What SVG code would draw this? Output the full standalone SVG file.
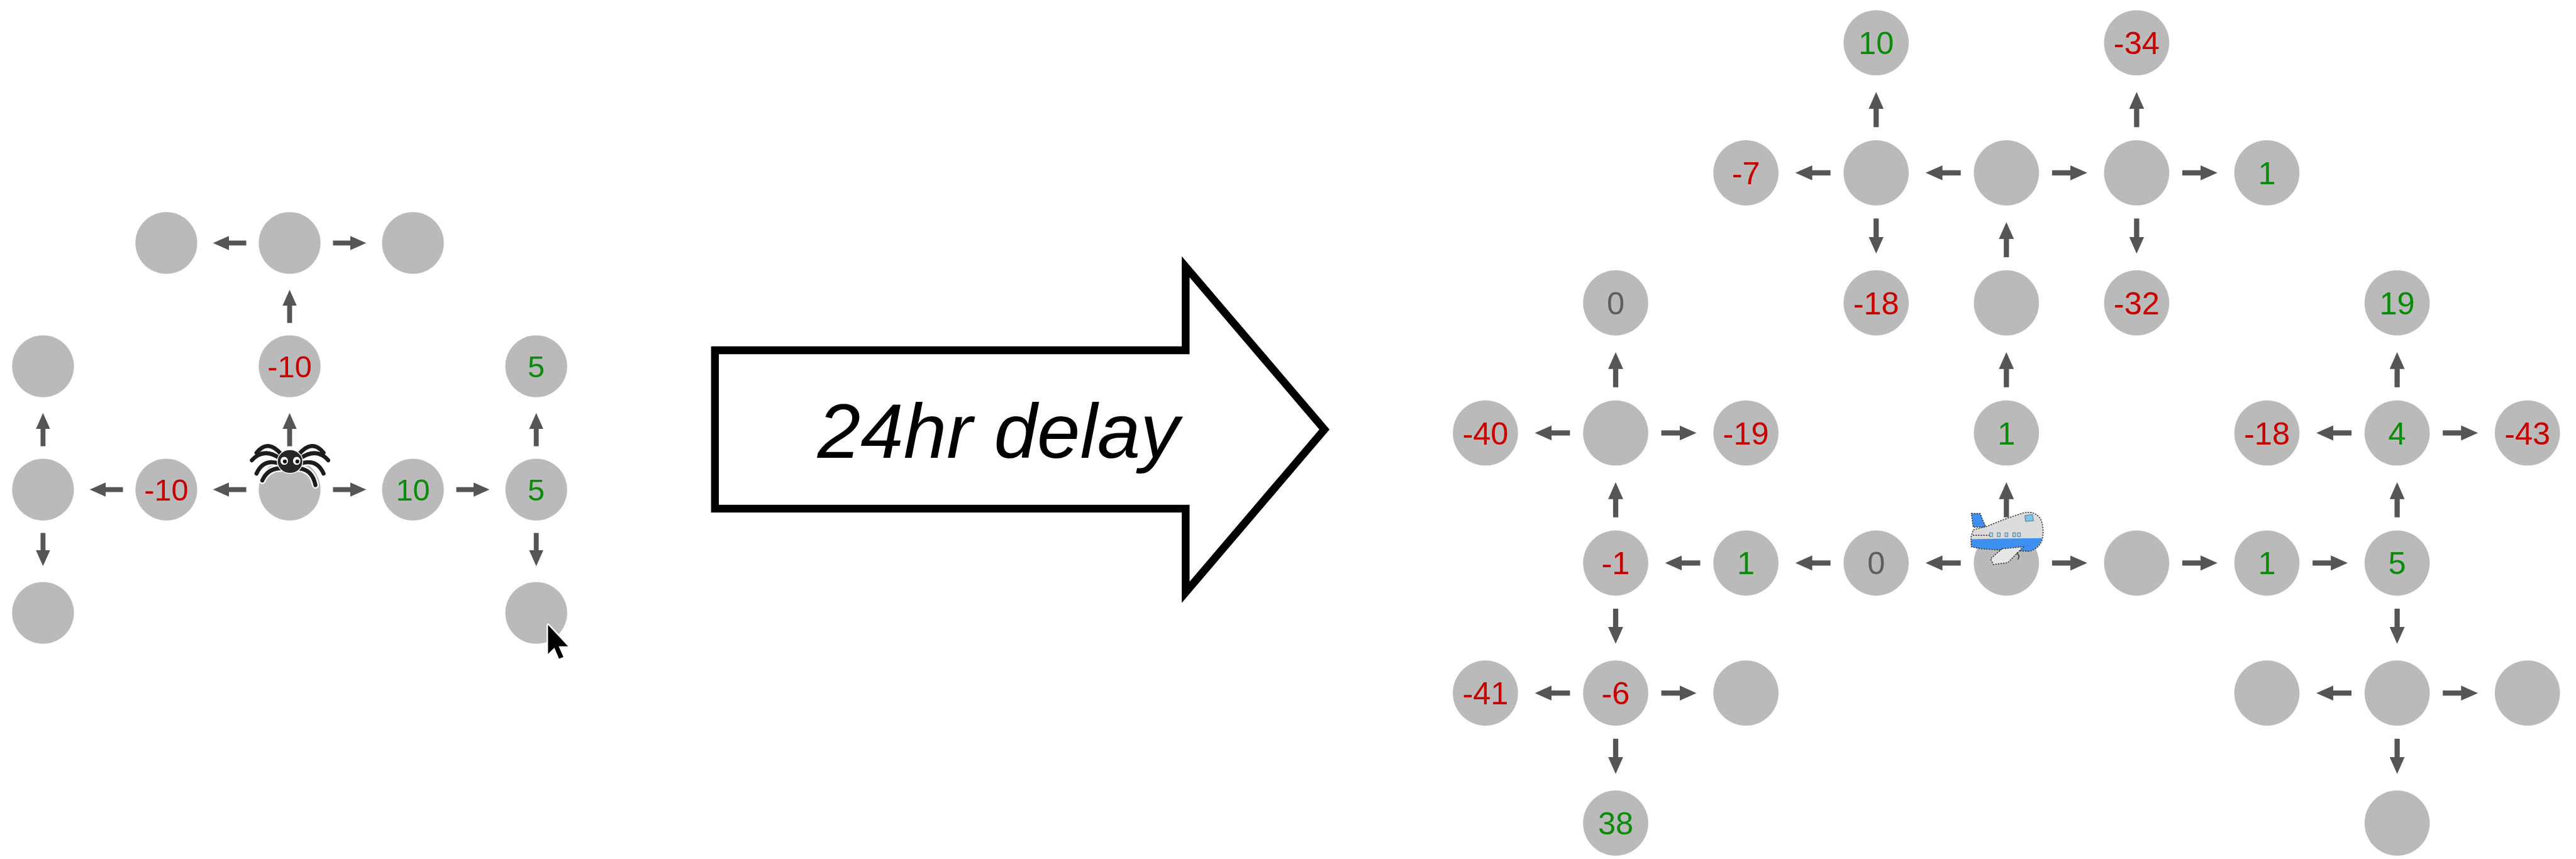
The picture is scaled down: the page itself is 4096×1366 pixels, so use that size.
<svg xmlns="http://www.w3.org/2000/svg" width="4096" height="1366" viewBox="0 0 4096 1366">
  <defs>
    <style>
      .nd circle { fill: #bababa; }
      .nd text { font-family: 'Liberation Sans', Arial, sans-serif; text-anchor: middle; }
      .sm text { font-size: 53px; }
      .lg text { font-size: 55px; }
      .neg { fill: #c80000; }
      .pos { fill: #0a8c0a; }
      .zero { fill: #5e5e5e; }
      .cl line { stroke: #555555; stroke-width: 8.5; marker-end: url(#headS); }
      .cr line { stroke: #555555; stroke-width: 9; marker-end: url(#headL); }
      .dots { fill: none; stroke: #2a2a2a; stroke-width: 1.6; stroke-dasharray: 2.5 2; }
      .leg { fill: none; stroke-linecap: round; }
    </style>
    <marker id="headS" markerUnits="userSpaceOnUse" viewBox="0 -13 28 26" refX="0.7" refY="0" markerWidth="28" markerHeight="26" orient="auto">
      <path d="M0,-12.3L27.7,0L0,12.3Z" fill="#555555"/>
    </marker>
    <marker id="headL" markerUnits="userSpaceOnUse" viewBox="0 -14 30 28" refX="0.7" refY="0" markerWidth="30" markerHeight="28" orient="auto">
      <path d="M0,-13L29.2,0L0,13Z" fill="#555555"/>
    </marker>
  </defs>
  <rect width="4096" height="1366" fill="#ffffff"/>
  <g transform="scale(0.91921)">

    <!-- first grid: nodes -->
    <g id="nodes-before" class="nd sm">
      <g id="b-1-0" transform="translate(287.7,420.4)"><circle r="53.5"/></g>
      <g id="b-2-0" transform="translate(501,420.4)"><circle r="53.5"/></g>
      <g id="b-3-0" transform="translate(714.3,420.4)"><circle r="53.5"/></g>
      <g id="b-0-1" transform="translate(74.4,633.7)"><circle r="53.5"/></g>
      <g id="b-2-1" transform="translate(501,633.7)"><circle r="53.5"/><text class="neg" y="19">-10</text></g>
      <g id="b-4-1" transform="translate(927.6,633.7)"><circle r="53.5"/><text class="pos" y="19">5</text></g>
      <g id="b-0-2" transform="translate(74.4,847)"><circle r="53.5"/></g>
      <g id="b-1-2" transform="translate(287.7,847)"><circle r="53.5"/><text class="neg" y="19">-10</text></g>
      <g id="b-2-2" transform="translate(501,847)"><circle r="53.5"/></g>
      <g id="b-3-2" transform="translate(714.3,847)"><circle r="53.5"/><text class="pos" y="19">10</text></g>
      <g id="b-4-2" transform="translate(927.6,847)"><circle r="53.5"/><text class="pos" y="19">5</text></g>
      <g id="b-0-3" transform="translate(74.4,1060.3)"><circle r="53.5"/></g>
      <g id="b-4-3" transform="translate(927.6,1060.3)"><circle r="53.5"/></g>
    </g>

    <!-- first grid: connectors -->
    <g id="connectors-before" class="cl">
      <line x1="426" y1="420.4" x2="395.5" y2="420.4"/>
      <line x1="576" y1="420.4" x2="606.5" y2="420.4"/>
      <line x1="501" y1="558.7" x2="501" y2="528.2"/>
      <line x1="501" y1="772" x2="501" y2="741.5"/>
      <line x1="426" y1="847" x2="395.5" y2="847"/>
      <line x1="576" y1="847" x2="606.5" y2="847"/>
      <line x1="212.7" y1="847" x2="182.2" y2="847"/>
      <line x1="74.4" y1="772" x2="74.4" y2="741.5"/>
      <line x1="74.4" y1="922" x2="74.4" y2="952.5"/>
      <line x1="789.3" y1="847" x2="819.8" y2="847"/>
      <line x1="927.6" y1="772" x2="927.6" y2="741.5"/>
      <line x1="927.6" y1="922" x2="927.6" y2="952.5"/>
    </g>

    <!-- spider sitting on the start node -->
    <g id="spider" transform="translate(501.7,798.3)">
      <g class="leg" stroke="#ffffff" stroke-width="12">
        <path d="M-15,-12Q-38,-40 -58,-15"/>
        <path d="M-17,-5Q-46,-25 -66,-2"/>
        <path d="M-17,4Q-46,-6 -58,21"/>
        <path d="M-12,12Q-38,10 -48,33"/>
        <path d="M15,-12Q38,-40 58,-15"/>
        <path d="M17,-5Q46,-25 66,-2"/>
        <path d="M17,4Q46,-6 58,21"/>
        <path d="M12,12Q38,12 44,41"/>
      </g>
      <g class="leg" stroke="#1c1c1c" stroke-width="7">
        <path d="M-15,-12Q-38,-40 -58,-15"/>
        <path d="M-17,-5Q-46,-25 -66,-2"/>
        <path d="M-17,4Q-46,-6 -58,21"/>
        <path d="M-12,12Q-38,10 -48,33"/>
        <path d="M15,-12Q38,-40 58,-15"/>
        <path d="M17,-5Q46,-25 66,-2"/>
        <path d="M17,4Q46,-6 58,21"/>
        <path d="M12,12Q38,12 44,41"/>
      </g>
      <ellipse rx="22" ry="20.5" fill="#262626" stroke="#ffffff" stroke-width="1.5"/>
      <ellipse cx="-10" cy="-1" rx="7" ry="7.6" fill="#ffffff" stroke="#111111" stroke-width="1"/>
      <ellipse cx="11.6" cy="-1" rx="7" ry="7.6" fill="#ffffff" stroke="#111111" stroke-width="1"/>
      <circle cx="-9" cy="0" r="3.4" fill="#111111"/>
      <circle cx="12.6" cy="0" r="3.4" fill="#111111"/>
    </g>

    <!-- mouse pointer -->
    <g id="pointer" transform="translate(948,1081)">
      <path d="M0,0L0,50L11,39.5L19,58.5L26.5,55.5L18.5,37L34.5,37Z" fill="#000000" stroke="#ffffff" stroke-width="5" stroke-linejoin="round" paint-order="stroke"/>
    </g>

    <!-- delay arrow -->
    <g id="delay-arrow">
      <path d="M1236.75,606L2051,606L2051,461.6L2291,743L2051,1024.6L2051,880L1236.75,880Z" fill="#ffffff" stroke="#000000" stroke-width="13.5" stroke-miterlimit="6"/>
      <text x="1414" y="792" font-family="'Liberation Sans', Arial, sans-serif" font-style="italic" font-size="134" fill="#000000">24hr delay</text>
    </g>

    <!-- second grid: nodes -->
    <g id="nodes-after" class="nd lg">
      <g id="a-3-0" transform="translate(3245.4,74)"><circle r="56.4"/><text class="pos" y="19.7">10</text></g>
      <g id="a-5-0" transform="translate(3696,74)"><circle r="56.4"/><text class="neg" y="19.7">-34</text></g>

      <g id="a-2-1" transform="translate(3020.1,299)"><circle r="56.4"/><text class="neg" y="19.7">-7</text></g>
      <g id="a-3-1" transform="translate(3245.4,299)"><circle r="56.4"/></g>
      <g id="a-4-1" transform="translate(3470.7,299)"><circle r="56.4"/></g>
      <g id="a-5-1" transform="translate(3696,299)"><circle r="56.4"/></g>
      <g id="a-6-1" transform="translate(3921.3,299)"><circle r="56.4"/><text class="pos" y="19.7">1</text></g>

      <g id="a-1-2" transform="translate(2794.8,524)"><circle r="56.4"/><text class="zero" y="19.7">0</text></g>
      <g id="a-3-2" transform="translate(3245.4,524)"><circle r="56.4"/><text class="neg" y="19.7">-18</text></g>
      <g id="a-4-2" transform="translate(3470.7,524)"><circle r="56.4"/></g>
      <g id="a-5-2" transform="translate(3696,524)"><circle r="56.4"/><text class="neg" y="19.7">-32</text></g>
      <g id="a-7-2" transform="translate(4146.6,524)"><circle r="56.4"/><text class="pos" y="19.7">19</text></g>

      <g id="a-0-3" transform="translate(2569.5,749)"><circle r="56.4"/><text class="neg" y="19.7">-40</text></g>
      <g id="a-1-3" transform="translate(2794.8,749)"><circle r="56.4"/></g>
      <g id="a-2-3" transform="translate(3020.1,749)"><circle r="56.4"/><text class="neg" y="19.7">-19</text></g>
      <g id="a-4-3" transform="translate(3470.7,749)"><circle r="56.4"/><text class="pos" y="19.7">1</text></g>
      <g id="a-6-3" transform="translate(3921.3,749)"><circle r="56.4"/><text class="neg" y="19.7">-18</text></g>
      <g id="a-7-3" transform="translate(4146.6,749)"><circle r="56.4"/><text class="pos" y="19.7">4</text></g>
      <g id="a-8-3" transform="translate(4371.9,749)"><circle r="56.4"/><text class="neg" y="19.7">-43</text></g>

      <g id="a-1-4" transform="translate(2794.8,974)"><circle r="56.4"/><text class="neg" y="19.7">-1</text></g>
      <g id="a-2-4" transform="translate(3020.1,974)"><circle r="56.4"/><text class="pos" y="19.7">1</text></g>
      <g id="a-3-4" transform="translate(3245.4,974)"><circle r="56.4"/><text class="zero" y="19.7">0</text></g>
      <g id="a-4-4" transform="translate(3470.7,974)"><circle r="56.4"/></g>
      <g id="a-5-4" transform="translate(3696,974)"><circle r="56.4"/></g>
      <g id="a-6-4" transform="translate(3921.3,974)"><circle r="56.4"/><text class="pos" y="19.7">1</text></g>
      <g id="a-7-4" transform="translate(4146.6,974)"><circle r="56.4"/><text class="pos" y="19.7">5</text></g>

      <g id="a-0-5" transform="translate(2569.5,1199)"><circle r="56.4"/><text class="neg" y="19.7">-41</text></g>
      <g id="a-1-5" transform="translate(2794.8,1199)"><circle r="56.4"/><text class="neg" y="19.7">-6</text></g>
      <g id="a-2-5" transform="translate(3020.1,1199)"><circle r="56.4"/></g>
      <g id="a-6-5" transform="translate(3921.3,1199)"><circle r="56.4"/></g>
      <g id="a-7-5" transform="translate(4146.6,1199)"><circle r="56.4"/></g>
      <g id="a-8-5" transform="translate(4371.9,1199)"><circle r="56.4"/></g>

      <g id="a-1-6" transform="translate(2794.8,1424)"><circle r="56.4"/><text class="pos" y="19.7">38</text></g>
      <g id="a-7-6" transform="translate(4146.6,1424)"><circle r="56.4"/></g>
    </g>

    <!-- second grid: connectors -->
    <g id="connectors-after" class="cr">
      <line x1="3166.4" y1="299" x2="3134.1" y2="299"/>
      <line x1="3391.7" y1="299" x2="3359.4" y2="299"/>
      <line x1="3549.7" y1="299" x2="3582" y2="299"/>
      <line x1="3775" y1="299" x2="3807.3" y2="299"/>
      <line x1="3245.4" y1="220" x2="3245.4" y2="187.7"/>
      <line x1="3245.4" y1="378" x2="3245.4" y2="410.3"/>
      <line x1="3696" y1="220" x2="3696" y2="187.7"/>
      <line x1="3696" y1="378" x2="3696" y2="410.3"/>
      <line x1="3470.7" y1="445" x2="3470.7" y2="412.7"/>
      <line x1="3470.7" y1="670" x2="3470.7" y2="637.7"/>
      <line x1="3470.7" y1="895" x2="3470.7" y2="862.7"/>

      <line x1="3391.7" y1="974" x2="3359.4" y2="974"/>
      <line x1="3166.4" y1="974" x2="3134.1" y2="974"/>
      <line x1="2941.1" y1="974" x2="2908.8" y2="974"/>
      <line x1="3549.7" y1="974" x2="3582" y2="974"/>
      <line x1="3775" y1="974" x2="3807.3" y2="974"/>
      <line x1="4000.3" y1="974" x2="4032.6" y2="974"/>

      <line x1="2794.8" y1="895" x2="2794.8" y2="862.7"/>
      <line x1="2794.8" y1="1053" x2="2794.8" y2="1085.3"/>
      <line x1="2794.8" y1="670" x2="2794.8" y2="637.7"/>
      <line x1="2715.8" y1="749" x2="2683.5" y2="749"/>
      <line x1="2873.8" y1="749" x2="2906.1" y2="749"/>
      <line x1="2715.8" y1="1199" x2="2683.5" y2="1199"/>
      <line x1="2873.8" y1="1199" x2="2906.1" y2="1199"/>
      <line x1="2794.8" y1="1278" x2="2794.8" y2="1310.3"/>

      <line x1="4146.6" y1="895" x2="4146.6" y2="862.7"/>
      <line x1="4146.6" y1="1053" x2="4146.6" y2="1085.3"/>
      <line x1="4146.6" y1="670" x2="4146.6" y2="637.7"/>
      <line x1="4067.6" y1="749" x2="4035.3" y2="749"/>
      <line x1="4225.6" y1="749" x2="4257.9" y2="749"/>
      <line x1="4067.6" y1="1199" x2="4035.3" y2="1199"/>
      <line x1="4225.6" y1="1199" x2="4257.9" y2="1199"/>
      <line x1="4146.6" y1="1278" x2="4146.6" y2="1310.3"/>
    </g>

    <!-- airplane on the start node -->
    <g id="plane" transform="translate(3470.7,974)">
      <path d="M-60.7,-85.7L-45.7,-85.7L-35.7,-62.3L-57.4,-62Z" fill="#3d8ff0"/>
      <path d="M-60.7,-85.7L-45.7,-85.7L-35.7,-62.3L-57.4,-62Z" class="dots"/>
      <path d="M-57.4,-57.3L-34,-63.3Q-4,-76 29.3,-86.7Q48,-91 58.6,-77.3Q66,-62 62,-40.7Q57,-25 39.3,-20.3L-0.7,-22L-44,-24.7L-60.7,-28L-61.4,-44Z" fill="#dcdcdc"/>
      <path d="M-61.2,-41L-10.7,-42.3L62,-43Q57,-25 39.3,-20.3L-0.7,-22L-44,-24.7L-60.7,-28Z" fill="#3d8ff0"/>
      <path d="M-57.4,-57.3L-34,-63.3Q-4,-76 29.3,-86.7Q48,-91 58.6,-77.3Q66,-62 62,-40.7Q57,-25 39.3,-20.3L-0.7,-22L-44,-24.7L-60.7,-28L-61.4,-44Z" class="dots"/>
      <path d="M-58,-48L-28,-48" class="dots"/>
      <g fill="#a8d8f2" stroke="#3a5a70" stroke-width="0.8">
        <rect x="-29" y="-52.3" width="5" height="6.6"/>
        <rect x="-15.7" y="-52.3" width="5" height="6.6"/>
        <rect x="-2.4" y="-52.3" width="5" height="6.6"/>
        <rect x="11" y="-52.3" width="5" height="6.6"/>
        <rect x="19.3" y="-52.3" width="5" height="6.6"/>
      </g>
      <path d="M32,-82L45,-84L47,-73L33,-72Z" fill="#7cc4ec" stroke="#3a5a70" stroke-width="0.8"/>
      <path d="M-7.4,-24.7L29.3,-28L2.6,-0.7L-22.4,2.7L-27.4,-7.3Z" fill="#e6e6e6"/>
      <path d="M-7.4,-24.7L29.3,-28L2.6,-0.7L-22.4,2.7L-27.4,-7.3Z" class="dots"/>
      <path d="M18,-18L22,-12L20,-6" fill="none" stroke="#333333" stroke-width="1.6"/>
    </g>
  </g>
</svg>
